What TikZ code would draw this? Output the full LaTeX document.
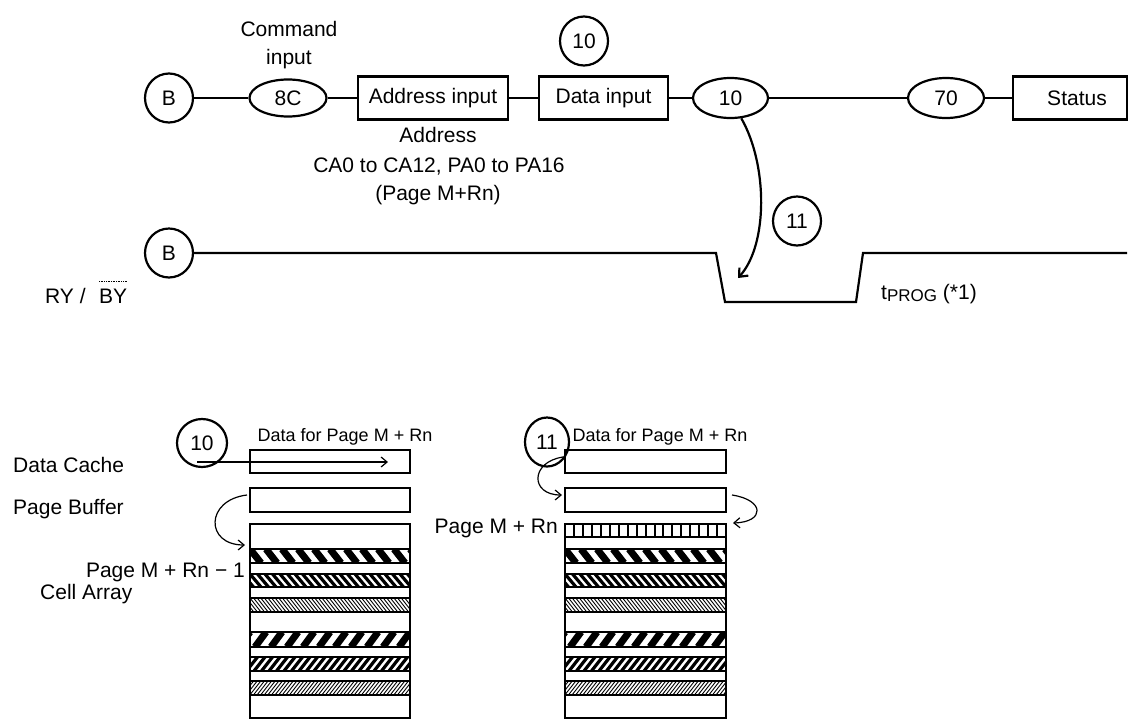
\documentclass[tikz,border=0pt]{standalone}
\usepackage{fontspec}
\setmainfont{Liberation Sans}
\usetikzlibrary{arrows.meta,shapes.geometric}

% xL, xR, y1, y2, period, line width, shift
\newcommand{\hband}[7]{%
  \begin{scope}
    \clip (#1,#3) rectangle (#2,#4);
    \pgfmathsetmacro{\hbN}{int((#2-#1)/#5)+4}
    \foreach \k in {-4,...,\hbN} {
      \draw[line width=#6] ({#1+\k*#5},#3) -- ({#1+\k*#5+#7},#4);
    }
  \end{scope}
  \draw[line width=2pt] (#1,#3) -- (#2,#3) (#1,#4) -- (#2,#4);
}

\begin{document}
\begin{tikzpicture}[x=1pt,y=-1pt,
  every node/.style={font=\fontsize{21}{24}\selectfont, inner sep=0pt},
  conn/.style={line width=2.2pt},
  rbox/.style={draw, line width=2.2pt, minimum height=43pt},
  oval/.style={draw, ellipse, line width=2.2pt},
  circ/.style={draw, ellipse, line width=2.2pt, minimum width=48pt, minimum height=49pt},
  small/.style={font=\fontsize{18}{21}\selectfont},
  memrect/.style={draw, line width=2.5pt, minimum width=160pt},
  thinarrow/.style={line width=1.2pt, -{Straight Barb[length=6pt,width=10pt]}},
]
\useasboundingbox (0,0) rectangle (1129,720);

% ---------- top command row ----------
\node[circ] (bTop) at (169,98) {B};
\node[oval, minimum width=77pt, minimum height=37pt] (c8c) at (288,98) {8C};
\node[rbox, minimum width=150pt] (addr) at (433,98) {Address input};
\node[rbox, minimum width=129pt] (din) at (603.5,98) {Data input};
\node[oval, minimum width=75pt, minimum height=40pt] (e10) at (730.5,98) {10};
\node[oval, minimum width=76pt, minimum height=40pt] (e70) at (946,98) {70};
\node[rbox, minimum width=114pt] (status) at (1070,98) {\hspace*{14pt}Status};
\draw[conn] (bTop) -- (c8c) (c8c) -- (addr) (addr) -- (din) (din) -- (e10)
            (e10) -- (e70) (e70) -- (status);

\node[anchor=base] (cmd1) at (289,36.5) {Command};
\node[anchor=base] (cmd2) at (289,64.5) {input};
\node[anchor=base] (adr1) at (438,142.5) {Address};
\node[anchor=base] (adr2) at (439,172.5) {CA0 to CA12, PA0 to PA16};
\node[anchor=base] (adr3) at (438,200) {(Page M+Rn)};
\node[circ] (c10top) at (584,41) {10};

% ---------- RY/BY row ----------
\node[circ] (bRy) at (169,253) {B};
\coordinate (w1) at (716,253);
\coordinate (w2) at (725,302);
\coordinate (w3) at (856,302);
\coordinate (w4) at (863,253);
\coordinate (w5) at (1127,253);
\draw[conn] (bRy) -- (w1) -- (w2) -- (w3) -- (w4) -- (w5);
\node[circ] (c11top) at (797,221) {11};
\coordinate (rytip) at (738,278);
\draw[conn, -{Straight Barb[length=7pt,width=12pt]}] (e10.-62) .. controls (768,165) and (768,245) .. (rytip);

\node[anchor=base west] (ry) at (45,303) {RY /};
\node[anchor=base west] (by) at (99,303) {BY};
\draw[line width=0.7pt, dash pattern=on 1pt off 0.7pt] ([yshift=7pt]by.north west) -- ([yshift=7pt]by.north east);
\node[anchor=base west] (tprog) at (881,299) {t\raisebox{-2.5pt}{\fontsize{17}{17}\selectfont PROG} (*1)};

% ---------- bottom: memory diagrams ----------
\node[anchor=base west] (dclab) at (13,472) {Data Cache};
\node[anchor=base west] (pblab) at (13,514) {Page Buffer};
\node[anchor=base east] (pmlab) at (245,577) {Page M + Rn − 1};
\node[anchor=base west] (calab) at (40,599) {Cell Array};
\node[anchor=base east] (pmrlab) at (558,533) {Page M + Rn};

% left column bands
\hband{250}{410}{549}{563}{16}{7pt}{11}
\hband{250}{410}{574}{587}{7.5}{3.2pt}{11}
\hband{250}{410}{598}{612}{3.6}{0.9pt}{11}
\hband{250}{410}{632}{647}{16}{7pt}{-11}
\hband{250}{410}{657}{671}{7.5}{3.2pt}{-11}
\hband{250}{410}{681}{695}{3.6}{0.9pt}{-11}
% right column bands
\begin{scope}
  \clip (565,524) rectangle (726,537);
  \foreach \k in {0,...,18} { \draw[line width=2pt] ({565+\k*8.95},524) -- ({565+\k*8.95},537); }
\end{scope}
\draw[line width=2pt] (565,537) -- (726,537);
\hband{565}{726}{549}{563}{16}{7pt}{11}
\hband{565}{726}{574}{587}{7.5}{3.2pt}{11}
\hband{565}{726}{598}{612}{3.6}{0.9pt}{11}
\hband{565}{726}{632}{647}{16}{7pt}{-11}
\hband{565}{726}{657}{671}{7.5}{3.2pt}{-11}
\hband{565}{726}{681}{695}{3.6}{0.9pt}{-11}

\node[memrect, minimum height=23pt] (dcL) at (330,461.5) {};
\node[memrect, minimum height=24pt] (pbL) at (330,500) {};
\node[memrect, minimum height=194pt] (caL) at (330,621) {};
\node[memrect, minimum width=161pt, minimum height=23pt] (dcR) at (645.5,461.5) {};
\node[memrect, minimum width=161pt, minimum height=24pt] (pbR) at (645.5,500) {};
\node[memrect, minimum width=161pt, minimum height=194pt] (caR) at (645.5,621) {};

\node[small, anchor=base] (dfpL) at (345,441) {Data for Page M + Rn};
\node[small, anchor=base] (dfpR) at (660,441) {Data for Page M + Rn};

\node[circ, minimum width=50pt, minimum height=48pt] (c10b) at (202,443) {10};
\node[circ, minimum width=44pt, minimum height=49pt] (c11b) at (547,442) {11};

\coordinate (a10s) at (197,462);
\coordinate (a10e) at (388,462);
\draw[thinarrow] (a10s) -- (a10e);

\coordinate (lc1) at (247,495);
\coordinate (lc2) at (245,545);
\draw[thinarrow] (lc1) .. controls (205,500) and (205,545) .. (lc2);

\coordinate (rc1) at (563,457);
\coordinate (rc2) at (562,495);
\draw[thinarrow] (rc1) .. controls (530,462) and (530,495) .. (rc2);

\coordinate (rc3) at (732,495);
\coordinate (rc4) at (733,523);
\draw[thinarrow] (rc3) .. controls (765,500) and (765,522) .. (rc4);
\end{tikzpicture}
\end{document}
